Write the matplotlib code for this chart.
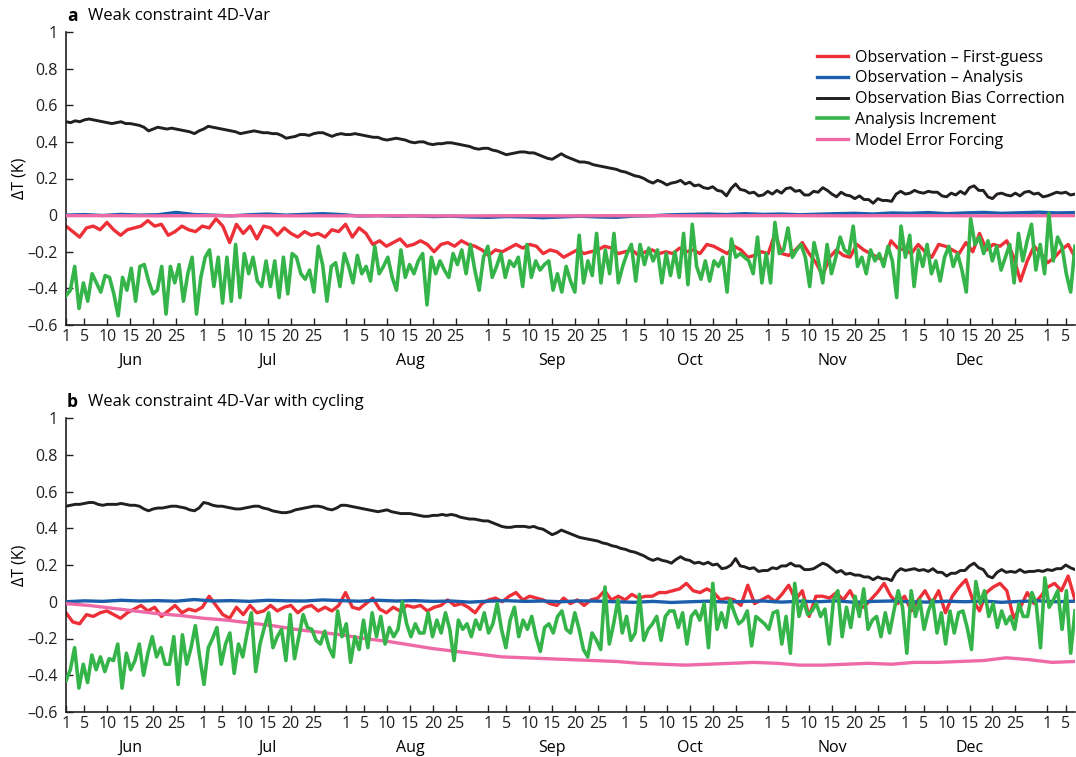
import numpy as np
import matplotlib
matplotlib.use('Agg')
import matplotlib.pyplot as plt

plt.rcParams['font.family'] = ['Open Sans', 'DejaVu Sans']

# ---------------- axis definitions ----------------
month_names = ['Jun', 'Jul', 'Aug', 'Sep', 'Oct', 'Nov', 'Dec']
month_starts = [0, 30, 61, 92, 122, 153, 183, 214]   # day index of the 1st (Jun..Jan)
tick_dates = [1, 5, 10, 15, 20, 25]
jan_tick_dates = [1, 5]
day_span = 220
y_ticks = [-0.6, -0.4, -0.2, 0, 0.2, 0.4, 0.6, 0.8, 1]
y_tick_labels = ['\u20130.6', '\u20130.4', '\u20130.2', '0', '0.2', '0.4', '0.6', '0.8', '1']

labels = ['Observation \u2013 First-guess', 'Observation \u2013 Analysis',
          'Observation Bias Correction', 'Analysis Increment', 'Model Error Forcing']
colors = ['#ED2F37', '#1B5EAB', '#231F20', '#35B44A', '#EE6AA7']

# ---------------- panel a data ----------------
red_a = [-0.06, -0.09, -0.12, -0.07, -0.06, -0.08, -0.04, -0.08, -0.11, -0.08,
         -0.07, -0.06, -0.03, -0.06, -0.05, -0.11, -0.09, -0.06, -0.08, -0.09,
         -0.06, -0.07, -0.02, -0.06, -0.15, -0.05, -0.10, -0.06, -0.13, -0.06,
         -0.07, -0.11, -0.07, -0.10, -0.12, -0.09, -0.11,
         -0.10, -0.12, -0.08, -0.09, -0.05, -0.12, -0.07, -0.10, -0.16, -0.14,
         -0.17, -0.15, -0.13, -0.17, -0.16, -0.14, -0.16, -0.20, -0.16, -0.15,
         -0.17, -0.14, -0.16, -0.17, -0.19, -0.22, -0.19, -0.20, -0.18, -0.16,
         -0.18, -0.16, -0.17, -0.21, -0.19, -0.20, -0.23,
         -0.21, -0.19, -0.21, -0.20, -0.19, -0.17, -0.18, -0.21, -0.20, -0.19,
         -0.22, -0.20, -0.19, -0.21, -0.20, -0.21, -0.18, -0.20, -0.19, -0.21,
         -0.16, -0.17, -0.19, -0.21, -0.17, -0.19, -0.23, -0.22, -0.20, -0.21,
         -0.10, -0.21, -0.22, -0.19, -0.15, -0.21, -0.26,
         -0.33, -0.23, -0.19, -0.22, -0.23, -0.16, -0.19, -0.21, -0.23, -0.25,
         -0.14, -0.18, -0.19, -0.21, -0.16, -0.20, -0.23, -0.16, -0.17, -0.19,
         -0.21, -0.15, -0.20, -0.10, -0.19, -0.16, -0.17, -0.14, -0.23, -0.36,
         -0.25, -0.17, -0.21, -0.26, -0.23, -0.19, -0.16, -0.23]

blue_a = [0.000, 0.003, -0.002, 0.004, 0.000, 0.002, 0.015, 0.003, 0.000, -0.004,
          0.002, 0.006, 0.000, 0.004, 0.008, 0.003, -0.005, -0.003, -0.006, -0.004,
          -0.008, -0.006, -0.010, -0.012, -0.008, -0.010, -0.014, -0.010, -0.006, -0.010,
          -0.012, -0.005, -0.003, 0.002, 0.004, 0.006, 0.003, 0.008, 0.004, 0.006,
          0.002, 0.005, 0.008, 0.010, 0.006, 0.012, 0.010, 0.014, 0.008, 0.012,
          0.015, 0.010, 0.013, 0.016, 0.012, 0.014]

black_a = [0.51, 0.505, 0.515, 0.51, 0.52, 0.525, 0.52, 0.515, 0.51, 0.505,
           0.50, 0.505, 0.51, 0.50, 0.50, 0.495, 0.49, 0.48, 0.46, 0.47,
           0.48, 0.475, 0.47, 0.475, 0.47, 0.465, 0.46, 0.455, 0.445, 0.46,
           0.47, 0.485, 0.48, 0.475, 0.47, 0.465, 0.46, 0.455, 0.445, 0.45,
           0.455, 0.46, 0.455, 0.45, 0.45, 0.445, 0.445, 0.435, 0.42, 0.425,
           0.43, 0.44, 0.44, 0.435, 0.445, 0.45, 0.45, 0.44, 0.43, 0.44,
           0.445, 0.44, 0.44, 0.445, 0.44, 0.435, 0.43, 0.425, 0.425, 0.415,
           0.41, 0.415, 0.42, 0.415, 0.41, 0.40, 0.395, 0.40, 0.40, 0.39,
           0.385, 0.39, 0.39, 0.395, 0.395, 0.39, 0.385, 0.38, 0.375, 0.365,
           0.36, 0.365, 0.365, 0.355, 0.35, 0.34, 0.33, 0.335, 0.34, 0.345,
           0.345, 0.34, 0.34, 0.33, 0.32, 0.31, 0.305, 0.32, 0.335, 0.32,
           0.31, 0.30, 0.29, 0.29, 0.285, 0.275, 0.27, 0.265, 0.26, 0.255,
           0.25, 0.24, 0.235, 0.225, 0.215, 0.21, 0.20, 0.185, 0.175, 0.19,
           0.18, 0.165, 0.175, 0.18, 0.19, 0.17, 0.18, 0.16, 0.165, 0.15,
           0.145, 0.155, 0.135, 0.13, 0.105, 0.145, 0.17, 0.14, 0.135, 0.12,
           0.125, 0.105, 0.11, 0.13, 0.115, 0.135, 0.12, 0.145, 0.15, 0.13,
           0.135, 0.11, 0.11, 0.13, 0.125, 0.15, 0.135, 0.115, 0.10, 0.125,
           0.11, 0.105, 0.09, 0.105, 0.085, 0.085, 0.065, 0.09, 0.08, 0.08,
           0.075, 0.115, 0.13, 0.115, 0.12, 0.135, 0.125, 0.12, 0.13, 0.125,
           0.125, 0.105, 0.10, 0.12, 0.11, 0.13, 0.115, 0.15, 0.16, 0.135,
           0.135, 0.10, 0.09, 0.115, 0.12, 0.11, 0.105, 0.12, 0.105, 0.125,
           0.13, 0.115, 0.12, 0.10, 0.105, 0.115, 0.125, 0.12, 0.125, 0.11,
           0.115]

green_a = [-0.44, -0.41, -0.28, -0.51, -0.37, -0.47, -0.32, -0.37, -0.42, -0.33,
           -0.34, -0.43, -0.55, -0.34, -0.41, -0.29, -0.47, -0.28, -0.27, -0.36,
           -0.43, -0.41, -0.28, -0.54, -0.28, -0.37, -0.27, -0.47, -0.32, -0.23,
           -0.54, -0.34, -0.23, -0.19, -0.39, -0.23, -0.48, -0.23, -0.47, -0.16,
           -0.45, -0.21, -0.32, -0.23, -0.36, -0.39, -0.25, -0.39, -0.25, -0.45,
           -0.23, -0.43, -0.21, -0.23,
           -0.32, -0.35, -0.30, -0.42, -0.17, -0.27, -0.47, -0.28, -0.26, -0.39,
           -0.21, -0.28, -0.37, -0.22, -0.32, -0.28, -0.36, -0.17, -0.32, -0.28,
           -0.23, -0.34, -0.41, -0.19, -0.34, -0.27, -0.32, -0.25, -0.21, -0.49,
           -0.23, -0.32, -0.25, -0.30, -0.34, -0.21, -0.27, -0.19, -0.32, -0.16,
           -0.30, -0.41, -0.23, -0.17, -0.34, -0.28, -0.21, -0.34, -0.25, -0.28,
           -0.23, -0.39, -0.16, -0.34, -0.25, -0.30,
           -0.27, -0.25, -0.41, -0.32, -0.42, -0.28, -0.36, -0.42, -0.11, -0.37,
           -0.25, -0.33, -0.10, -0.37, -0.19, -0.32, -0.10, -0.37, -0.28, -0.21,
           -0.16, -0.36, -0.16, -0.27, -0.18, -0.25, -0.19, -0.37, -0.21, -0.33,
           -0.20, -0.34, -0.10, -0.38, -0.05, -0.28, -0.35, -0.25, -0.36, -0.25,
           -0.28, -0.23, -0.42, -0.13, -0.23, -0.21, -0.23, -0.25, -0.32, -0.12,
           -0.37, -0.21, -0.37, -0.04, -0.21, -0.19, -0.07, -0.23, -0.19,
           -0.16, -0.23, -0.39, -0.15, -0.25, -0.37, -0.16, -0.32, -0.23, -0.12,
           -0.19, -0.21, -0.06, -0.28, -0.23, -0.32, -0.19, -0.25, -0.21, -0.28,
           -0.17, -0.25, -0.45, -0.06, -0.23, -0.11, -0.39, -0.19, -0.28, -0.16,
           -0.32, -0.25, -0.36, -0.23, -0.17, -0.28, -0.21, -0.30, -0.42, -0.02,
           -0.16, -0.12, -0.21, -0.14, -0.25, -0.17, -0.30, -0.23, -0.16, -0.37,
           -0.10, -0.25, -0.14, -0.05, -0.30, -0.16, -0.32, 0.01, -0.25, -0.12,
           -0.17, -0.32, -0.42, -0.17]

pink_a = [-0.003, -0.003, -0.004, -0.003, -0.003, -0.004, -0.004, -0.003, -0.004, -0.004,
          -0.003, -0.004, -0.003, -0.003, -0.004, -0.003, -0.003, -0.004, -0.003, -0.003,
          -0.004, -0.003, -0.003]

# ---------------- panel b data ----------------
red_b = [-0.06, -0.11, -0.12, -0.07, -0.08, -0.06, -0.05, -0.07, -0.09, -0.06,
         -0.04, -0.02, -0.05, -0.03, -0.08, -0.05, -0.02, -0.06, -0.04, -0.05,
         -0.03, 0.03, -0.02, -0.07, -0.09, -0.03, -0.07, -0.02, -0.06, -0.05,
         -0.02, -0.05, -0.03, -0.02, -0.06, -0.03, -0.02,
         -0.05, -0.03, -0.05, -0.02, 0.05, -0.03, -0.04, -0.01, 0.02, -0.04,
         -0.06, -0.03, -0.05, -0.02, -0.03, -0.02, -0.05, -0.03, -0.02, 0.01,
         -0.02, -0.01, -0.03, -0.06, -0.01, 0.01, 0.02, 0.00, 0.03, 0.05,
         0.01, 0.03, 0.02, 0.01, -0.01, -0.02, 0.02,
         -0.01, 0.01, -0.02, 0.01, 0.02, 0.06, 0.01, 0.03, 0.01, 0.04,
         0.02, 0.03, 0.03, 0.05, 0.05, 0.06, 0.07, 0.10, 0.06, 0.05,
         0.07, 0.05, 0.01, 0.02, 0.01, -0.02, 0.09, -0.01, 0.01, 0.03,
         0.00, 0.04, 0.09, 0.01, 0.06, -0.08, 0.03,
         0.03, 0.02, 0.05, 0.01, 0.06, -0.01, -0.03, 0.01, 0.05, 0.10,
         0.03, -0.01, 0.03, -0.05, 0.01, 0.06, -0.01, 0.06, -0.06, 0.03,
         0.08, 0.12, 0.01, -0.05, 0.05, 0.08, 0.10, 0.06, -0.09, -0.03,
         0.05, -0.01, 0.03, 0.08, 0.10, 0.06, 0.14, 0.01]

blue_b = [0.000, 0.005, 0.002, 0.008, 0.004, 0.006, 0.003, 0.012, 0.004, 0.006,
          0.002, 0.008, 0.005, 0.004, 0.010, 0.006, 0.003, 0.008, 0.004, 0.006,
          0.002, 0.004, -0.002, 0.003, 0.006, 0.002, 0.004, 0.000, 0.005, 0.003,
          0.000, -0.003, 0.002, -0.004, 0.000, 0.003, -0.002, 0.002, 0.004, -0.002,
          0.003, 0.000, 0.005, -0.003, 0.002, 0.004, 0.000, -0.002, 0.003, 0.000,
          0.004, -0.003, 0.002, 0.005, 0.000, 0.003]

black_b = [0.52, 0.525, 0.53, 0.53, 0.535, 0.54, 0.54, 0.53, 0.525, 0.53,
           0.53, 0.53, 0.535, 0.53, 0.525, 0.525, 0.52, 0.505, 0.495, 0.505,
           0.51, 0.51, 0.515, 0.52, 0.52, 0.515, 0.51, 0.50, 0.495, 0.51,
           0.54, 0.535, 0.525, 0.52, 0.52, 0.515, 0.51, 0.505, 0.505, 0.51,
           0.515, 0.52, 0.52, 0.51, 0.505, 0.495, 0.49, 0.485, 0.485, 0.49,
           0.50, 0.505, 0.51, 0.515, 0.52, 0.52, 0.515, 0.505, 0.50, 0.51,
           0.525, 0.525, 0.52, 0.515, 0.51, 0.505, 0.50, 0.495, 0.49, 0.495,
           0.50, 0.49, 0.485, 0.48, 0.48, 0.48, 0.475, 0.47, 0.465, 0.465,
           0.47, 0.47, 0.475, 0.47, 0.475, 0.47, 0.46, 0.455, 0.45, 0.45,
           0.445, 0.44, 0.44, 0.43, 0.42, 0.41, 0.405, 0.405, 0.41, 0.41,
           0.41, 0.405, 0.41, 0.40, 0.395, 0.38, 0.365, 0.375, 0.39, 0.38,
           0.37, 0.36, 0.35, 0.345, 0.34, 0.335, 0.33, 0.32, 0.315, 0.305,
           0.30, 0.29, 0.285, 0.275, 0.27, 0.26, 0.25, 0.235, 0.225, 0.235,
           0.225, 0.22, 0.21, 0.23, 0.245, 0.23, 0.225, 0.21, 0.215, 0.205,
           0.215, 0.20, 0.205, 0.18, 0.185, 0.20, 0.235, 0.195, 0.19, 0.18,
           0.185, 0.165, 0.17, 0.17, 0.185, 0.18, 0.195, 0.195, 0.21, 0.195,
           0.195, 0.175, 0.175, 0.18, 0.195, 0.21, 0.20, 0.18, 0.16, 0.17,
           0.15, 0.155, 0.145, 0.145, 0.135, 0.135, 0.12, 0.135, 0.125, 0.125,
           0.115, 0.16, 0.18, 0.17, 0.175, 0.18, 0.17, 0.175, 0.165, 0.18,
           0.16, 0.16, 0.14, 0.155, 0.155, 0.17, 0.17, 0.195, 0.21, 0.185,
           0.175, 0.14, 0.13, 0.16, 0.175, 0.16, 0.165, 0.16, 0.175, 0.16,
           0.165, 0.165, 0.17, 0.165, 0.175, 0.17, 0.18, 0.18, 0.20, 0.185,
           0.175]

green_b = [-0.43, -0.37, -0.25, -0.47, -0.34, -0.44, -0.29, -0.37, -0.30, -0.38,
           -0.31, -0.32, -0.23, -0.47, -0.28, -0.37, -0.32, -0.23, -0.40, -0.28,
           -0.19, -0.30, -0.25, -0.34, -0.34, -0.19, -0.45, -0.18, -0.34, -0.25,
           -0.13, -0.30, -0.45, -0.25, -0.20, -0.14, -0.34, -0.23, -0.17, -0.39,
           -0.23, -0.30, -0.17, -0.06, -0.38, -0.23, -0.14, -0.06, -0.25, -0.19,
           -0.15, -0.32, -0.07, -0.31, -0.19, -0.07, -0.14,
           -0.15, -0.21, -0.23, -0.16, -0.25, -0.30, -0.05, -0.19, -0.12, -0.33,
           -0.19, -0.26, -0.10, -0.25, -0.06, -0.19, -0.08, -0.23, -0.14, -0.19,
           -0.15, 0.00, -0.12, -0.19, -0.12, -0.17, -0.17, -0.06, -0.19, -0.10,
           -0.17, -0.06, -0.15, -0.32, -0.10, -0.15, -0.12, -0.19, -0.10, -0.15,
           -0.06, -0.17, -0.12, -0.01, -0.15, -0.25, -0.10, -0.03, -0.19, -0.10,
           -0.15, -0.08, -0.19, -0.27, -0.14, -0.12, -0.17, -0.08, -0.05, -0.15,
           -0.17, -0.06, -0.15, -0.26, -0.30, -0.17, -0.21, -0.26, 0.08, -0.23,
           -0.12, 0.01, -0.17, -0.08, -0.21, -0.17, 0.04, -0.21, -0.15, -0.12,
           -0.08, -0.21, -0.08, -0.05, -0.05, -0.14, -0.06, -0.23, -0.08, -0.05,
           -0.10, -0.01, -0.25, 0.10, -0.15, -0.06, -0.14, 0.01, -0.06, -0.12,
           -0.10, -0.05, -0.24, -0.08, -0.10, -0.12, -0.15, -0.06, -0.05, -0.23,
           -0.08, -0.28, 0.10, -0.08, 0.01, -0.07, -0.05, -0.01,
           -0.08, -0.04, -0.23, 0.01, 0.06, -0.19, -0.03, -0.14, 0.03, -0.08,
           0.07, -0.15, -0.10, -0.08, -0.19, -0.06, -0.17, -0.05, 0.06, -0.03,
           -0.28, 0.06, -0.08, 0.01, -0.15, -0.05, 0.01, -0.17, -0.06, -0.23,
           -0.05, -0.17, -0.06, -0.05, -0.14, -0.26, 0.11, -0.01, 0.06, -0.08,
           -0.01, -0.14, -0.05, -0.12, -0.08, -0.15, -0.01, -0.08, -0.08, 0.05,
           -0.01, -0.25, 0.13, -0.03, 0.01, 0.06, -0.15, 0.06, -0.28, -0.05]

pink_b = [-0.01, -0.02, -0.035, -0.05, -0.065, -0.075, -0.09, -0.10, -0.115, -0.13,
          -0.15, -0.165, -0.18, -0.20, -0.215, -0.235, -0.255, -0.27, -0.285, -0.30,
          -0.305, -0.31, -0.315, -0.32, -0.325, -0.335, -0.34, -0.345, -0.34, -0.335,
          -0.33, -0.335, -0.345, -0.345, -0.34, -0.335, -0.34, -0.33, -0.33, -0.325,
          -0.32, -0.305, -0.315, -0.33, -0.325]

panels = [
    ('a', 'Weak constraint 4D-Var', [red_a, blue_a, black_a, green_a, pink_a], True),
    ('b', 'Weak constraint 4D-Var with cycling', [red_b, blue_b, black_b, green_b, pink_b], False),
]

# ---------------- figure ----------------
W, H = 1076, 757
fig = plt.figure(figsize=(W / 100, H / 100), dpi=100)

axes_px = [(66, 32, 1075, 325), (66, 418, 1075, 712)]   # left, top, right, bottom (pixels)
widths = [2.4, 2.4, 2.1, 2.6, 2.4]
zorders = [2, 3, 4, 5, 3.5]
FS = 11.5

tick_pos, tick_lab = [], []
for s in month_starts[:-1]:
    for d in tick_dates:
        tick_pos.append(s + d - 1)
        tick_lab.append(str(d))
for d in jan_tick_dates:
    tick_pos.append(month_starts[-1] + d - 1)
    tick_lab.append(str(d))

for (letter, title, series, show_leg), (l, t, r, b) in zip(panels, axes_px):
    ax = fig.add_axes([l / W, 1 - b / H, (r - l) / W, (b - t) / H])
    for vals, c, lab, lw, z in zip(series, colors, labels, widths, zorders):
        x = np.linspace(0, day_span, len(vals))
        ax.plot(x, vals, color=c, lw=lw, label=lab, zorder=z)
    ax.set_xlim(0, day_span)
    ax.set_ylim(-0.6, 1)
    ax.set_yticks(y_ticks)
    ax.set_yticklabels(y_tick_labels)
    ax.set_xticks(tick_pos)
    ax.set_xticklabels(tick_lab)
    ax.tick_params(axis='both', direction='in', length=5, width=1.0, labelsize=FS,
                   colors='#231F20')
    ax.tick_params(axis='x', pad=3)
    ax.tick_params(axis='y', pad=6)
    for sp in ['top', 'right']:
        ax.spines[sp].set_visible(False)
    for sp in ['left', 'bottom']:
        ax.spines[sp].set_linewidth(1.2)
        ax.spines[sp].set_color('#231F20')
    ax.set_ylabel('\u0394T (K)', fontsize=FS)
    ax.yaxis.set_label_coords(-38 / (r - l), 0.5)
    for name, s in zip(month_names, month_starts):
        ax.annotate(name, xy=(s + 14, 0), xycoords=('data', 'axes fraction'),
                    xytext=(0, -26), textcoords='offset points',
                    ha='center', va='center', fontsize=FS)
    fig.text(67 / W, 1 - (t - 16) / H, letter, fontsize=12.5, fontweight='bold',
             ha='left', va='center')
    fig.text(88 / W, 1 - (t - 16) / H, title, fontsize=12, ha='left', va='center')
    if show_leg:
        ax.legend(loc='upper right', frameon=False, fontsize=FS, handlelength=1.9,
                  handletextpad=0.45, labelspacing=0.3, borderaxespad=0.0,
                  bbox_to_anchor=(0.996, 0.962))

fig.savefig('out.png', dpi=100)
